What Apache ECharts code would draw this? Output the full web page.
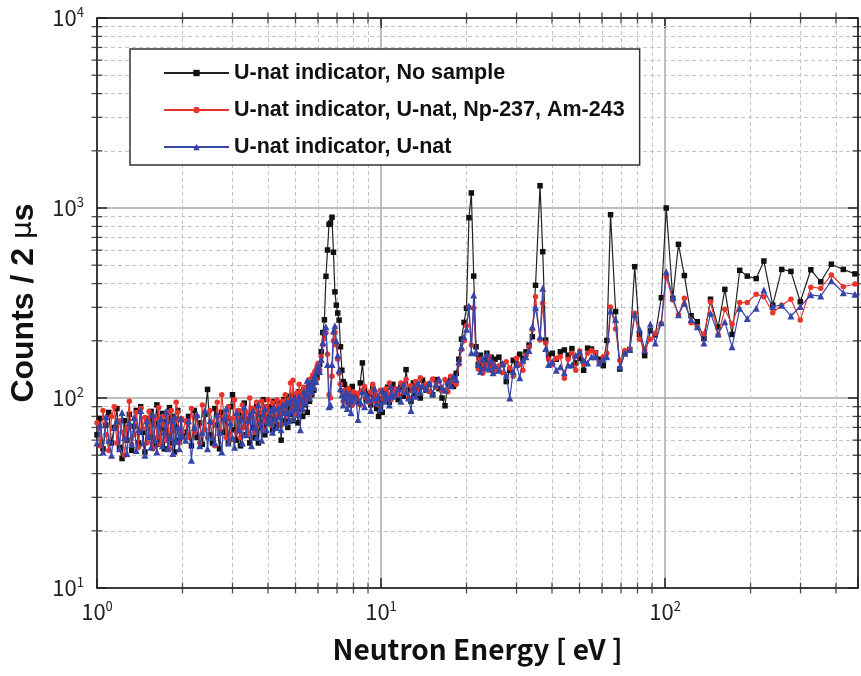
<!DOCTYPE html>
<html><head><meta charset="utf-8">
<script src="https://cdn.jsdelivr.net/npm/echarts@6/dist/echarts.min.js"></script>
<style>html,body{margin:0;padding:0;background:#fff}#c{width:861px;height:676px}</style>
</head><body><div id="c"></div><script>
// Neutron energy (eV) of each time-of-flight bin
const energy = [
 1.000,1.025,1.050,1.075,1.100,1.125,1.150,1.175,1.200,1.225,1.250,1.275,1.300,1.325,1.350,1.375,1.400,1.425,1.450,1.475,1.500,1.525,1.550,1.575,1.600,1.625,1.650,1.675,1.700,1.725,1.750,1.775,1.800,1.825,1.850,1.875,1.900,1.925,1.950,1.975,2.000,
 2.05,2.10,2.15,2.20,2.25,2.30,2.35,2.40,2.45,2.50,2.55,2.60,2.65,2.70,2.75,2.80,2.85,2.90,2.95,3.00,3.05,3.10,3.15,3.20,3.25,3.30,3.35,3.40,3.45,3.50,3.55,3.60,3.65,3.70,3.75,3.80,3.85,3.90,3.95,4.00,
 4.05,4.10,4.15,4.20,4.25,4.30,4.35,4.40,4.45,4.50,4.55,4.60,4.65,4.70,4.75,4.80,4.85,4.90,4.95,5.00,5.05,5.10,5.15,5.20,5.25,5.30,5.35,5.40,5.45,5.50,5.55,5.60,5.65,5.70,5.75,5.80,5.85,5.90,5.95,6.00,
 6.08,6.16,6.24,6.32,6.40,6.48,6.56,6.64,6.72,6.80,6.88,6.96,7.04,7.12,7.20,7.28,7.36,7.44,7.52,7.60,7.68,7.76,7.84,7.92,8.00,
 8.15,8.30,8.45,8.60,8.75,8.90,9.05,9.20,9.35,9.50,9.65,9.80,9.95,10.10,10.25,10.40,10.55,10.70,10.85,11.00,
 11.25,11.50,11.75,12.00,12.25,12.50,12.75,13.00,13.25,13.50,13.75,14.00,
 14.4,14.8,15.2,15.6,16.0,16.4,16.8,17.2,17.6,18.0,18.4,18.8,19.2,19.6,20.0,20.4,20.8,21.2,21.6,22.0,22.4,22.8,23.2,23.6,24.0,24.4,24.8,25.2,
 26.0,26.8,27.6,28.4,29.2,30.0,30.8,31.6,32.4,33.2,34.1,35.0,36.3,37.1,38.0,38.9,
 40.1,41.4,42.8,44.2,45.6,47.0,48.5,50.1,51.7,53.4,55.1,56.9,58.7,60.6,62.4,
 64.3,67.0,69.3,72.2,75.1,78.2,81.3,84.8,88.8,92.4,97.0,101.0,106.5,111.5,117.0,123.5,129.9,137.1,144.6,153.8,162.4,172.2,183.2,194.8,209.4,222.8,239.5,257.5,277.5,299.4,326.1,353.4,385.2,424.3,466.2,512
];
// Counts / 2 us : U-nat indicator, No sample
const noSample = [
 64,78,54,72,84,58,70,88,55,48,76,60,82,53,71,86,58,90,66,52,78,62,85,56,73,92,57,69,83,54,75,63,89,58,80,52,70,86,60,77,64,
 66,80,56,86,62,74,57,82,111,64,58,88,72,54,84,66,78,58,90,104,68,60,85,56,80,94,64,76,58,88,70,62,92,58,82,70,98,64,80,90,
 78,90,68,96,80,72,94,84,60,90,98,76,88,70,102,82,94,76,104,86,96,74,108,88,100,80,110,92,104,84,114,96,118,104,124,110,130,138,128,145,
 150,175,221,258,437,601,820,834,894,585,362,308,280,257,186,140,122,118,104,112,96,108,92,115,100,
 104,96,120,153,110,98,105,92,112,100,88,80,96,84,108,99,114,95,103,118,
 106,98,115,102,141,110,96,120,105,113,100,124,
 110,118,104,125,112,100,91,120,128,115,135,160,204,250,297,889,1200,438,186,150,168,140,158,172,150,164,145,160,
 164,150,122,140,158,151,170,161,175,190,210,392,1310,589,202,168,
 172,160,175,179,168,182,153,162,140,183,181,173,160,148,201,
 922,285,142,173,180,491,216,167,226,215,337,1000,335,644,441,271,252,206,331,236,373,216,470,438,425,526,308,475,464,321,473,409,506,475,450,440
];
// U-nat indicator, U-nat, Np-237, Am-243
const uNatNpAm = [
 74,56,86,64,53,80,90,58,76,66,50,70,96,57,64,84,55,88,69,79,58,85,66,54,78,62,89,57,80,72,60,83,54,86,67,76,95,84,58,78,66,
 76,62,88,66,80,58,92,68,62,86,74,56,95,68,104,80,62,90,60,78,98,66,86,62,92,70,84,64,100,74,88,66,95,72,84,96,68,90,76,98,
 84,72,94,86,76,98,80,92,72,96,86,104,80,94,98,120,86,124,95,82,106,94,118,88,108,96,114,94,110,100,120,104,126,112,132,118,138,126,146,152,
 140,165,190,205,220,170,104,100,130,200,222,190,160,135,118,108,96,110,102,94,112,99,105,92,108,
 98,106,92,110,115,100,95,108,118,96,104,92,110,100,97,112,105,120,98,108,
 112,104,120,108,125,100,116,110,122,106,128,114,
 118,108,126,114,122,110,125,108,130,122,118,150,180,200,240,300,190,297,170,142,160,135,150,145,165,140,152,138,
 148,136,155,144,130,162,150,140,168,185,230,341,202,315,195,160,
 150,162,165,127,160,172,140,177,151,172,178,173,153,165,172,
 301,231,158,178,180,279,204,180,204,219,247,435,328,274,335,249,237,217,321,215,293,245,318,318,352,341,281,308,331,257,383,378,444,385,398,400
];
// U-nat indicator, U-nat
const uNat = [
 58,72,52,80,60,50,70,76,54,84,62,51,74,57,79,53,68,86,58,50,76,63,55,82,60,52,72,78,56,66,85,54,62,76,51,80,59,70,54,78,63,
 60,76,47,70,82,56,66,86,54,76,62,58,82,66,52,78,88,58,74,62,55,84,68,78,58,90,64,76,82,56,86,70,62,92,74,60,82,88,68,78,
 74,86,66,90,78,70,88,80,68,92,84,74,95,84,76,98,86,78,100,88,94,82,102,68,98,88,108,94,104,124,112,100,120,108,124,114,132,122,140,148,
 138,160,196,225,237,150,90,92,150,225,240,200,168,140,112,104,92,100,108,88,98,105,84,96,102,
 100,77,95,108,90,104,98,86,100,112,94,102,88,110,96,105,100,92,115,102,
 104,112,96,118,108,100,86,114,102,120,108,116,
 112,120,106,118,126,114,110,122,116,130,125,155,185,210,230,305,173,348,175,150,138,162,145,170,142,158,136,148,
 140,152,132,100,138,150,128,158,165,178,237,300,210,378,182,150,
 155,140,146,136,149,149,168,175,158,153,165,165,153,160,165,
 287,259,146,172,180,274,231,179,245,195,249,462,339,274,315,259,237,195,279,217,252,186,297,262,297,370,303,308,270,303,349,344,414,358,352,350
];
const seriesNames = ['U-nat indicator, No sample', 'U-nat indicator, U-nat, Np-237, Am-243', 'U-nat indicator, U-nat'];
const xRange = [1, 478];
const yRange = [10, 10000];
const xMinorTicks = [2,3,4,5,6,7,8,9,20,30,40,50,60,70,80,90,200,300,400];
const yMinorTicks = [20,30,40,50,60,70,80,90,200,300,400,500,600,700,800,900,2000,3000,4000,5000,6000,7000,8000,9000];

const pairs = ys => energy.map((e, i) => [e, ys[i]]);
const supFmt = v => {
  const p = Math.log10(v);
  if (Math.abs(p - Math.round(p)) > 1e-6) return '';
  return '{b|10}{s|' + Math.round(p) + '}';
};
const labelRich = {
  b: {fontFamily: 'Noto Sans CJK JP', fontSize: 22, color: '#222', lineHeight: 24, verticalAlign: 'middle'},
  s: {fontFamily: 'Noto Sans CJK JP', fontSize: 13, color: '#222', lineHeight: 14, verticalAlign: 'top'}
};
const frame = {show: true, lineStyle: {color: '#111', width: 1.5}};
const majorTick = {show: true, inside: true, length: 10, lineStyle: {color: '#222', width: 1.5}};
const noSplit = {show: false};

const chart = echarts.init(document.getElementById('c'));
chart.setOption({
  animation: false,
  backgroundColor: '#fff',
  grid: {left: 95, top: 18, right: 0, bottom: 88},
  legend: {
    orient: 'vertical', left: 130, top: 49,
    itemWidth: 65, itemHeight: 8, itemGap: 15,
    padding: [13, 15, 7, 33],
    borderColor: '#333', borderWidth: 1.5, backgroundColor: '#fff',
    selectedMode: false,
    lineStyle: {width: 2},
    textStyle: {fontFamily: 'Liberation Sans', fontWeight: 'bold', fontSize: 21.5, color: '#111', lineHeight: 22},
    data: seriesNames
  },
  xAxis: [{
    type: 'log', logBase: 10, min: xRange[0], max: xRange[1],
    axisLine: frame, axisTick: majorTick,
    axisLabel: {formatter: supFmt, margin: 12, rich: labelRich},
    splitLine: {show: true, lineStyle: {color: '#a8a8a8', width: 1.5}},
    name: 'Neutron Energy [ eV ]', nameLocation: 'middle', nameGap: 47,
    nameTextStyle: {fontFamily: 'Noto Sans CJK JP', fontWeight: 'bold', fontSize: 28, color: '#111'}
  }, {
    type: 'log', logBase: 10, min: xRange[0], max: xRange[1], position: 'top',
    axisLine: frame, axisTick: majorTick, axisLabel: {show: false}, splitLine: noSplit
  }],
  yAxis: [{
    type: 'log', logBase: 10, min: yRange[0], max: yRange[1],
    axisLine: frame, axisTick: majorTick,
    axisLabel: {formatter: supFmt, margin: 13, rich: labelRich},
    splitLine: {show: true, lineStyle: {color: '#a8a8a8', width: 1.5}},
    name: 'Counts / 2 {m|μ}s', nameLocation: 'middle', nameGap: 57,
    nameTextStyle: {fontFamily: 'Liberation Sans', fontWeight: 'bold', fontSize: 32, color: '#111',
      rich: {m: {fontFamily: 'DejaVu Sans', fontWeight: 'normal', fontSize: 28, color: '#111'}}}
  }, {
    type: 'log', logBase: 10, min: yRange[0], max: yRange[1], position: 'right',
    axisLine: frame, axisTick: majorTick, axisLabel: {show: false}, splitLine: noSplit
  }],
  series: [
    {
      type: 'scatter', silent: true, clip: true, z: 1,
      symbol: 'rect', symbolSize: [1.3, 11],
      itemStyle: {color: '#222'},
      data: xMinorTicks.map(v => [v, yRange[0]]).concat(xMinorTicks.map(v => [v, yRange[1]])),
      markLine: {
        silent: true, symbol: 'none', z: 1, animation: false,
        label: {show: false},
        lineStyle: {color: '#c4c4c4', width: 1, type: [4, 3]},
        data: xMinorTicks.map(v => ({xAxis: v})).concat(yMinorTicks.map(v => ({yAxis: v})))
      }
    },
    {
      type: 'scatter', silent: true, clip: true, z: 1,
      symbol: 'rect', symbolSize: [11, 1.3],
      itemStyle: {color: '#222'},
      data: yMinorTicks.map(v => [xRange[0], v]).concat(yMinorTicks.map(v => [xRange[1], v]))
    },
    {
      name: seriesNames[0], type: 'line', data: pairs(noSample), z: 3,
      symbol: 'rect', symbolSize: 5.5, showAllSymbol: true,
      lineStyle: {color: '#222', width: 1.2}, itemStyle: {color: '#111'}
    },
    {
      name: seriesNames[1], type: 'line', data: pairs(uNatNpAm), z: 4,
      symbol: 'circle', symbolSize: 5.5, showAllSymbol: true,
      lineStyle: {color: '#e8342c', width: 1.2}, itemStyle: {color: '#e8342c'}
    },
    {
      name: seriesNames[2], type: 'line', data: pairs(uNat), z: 5,
      symbol: 'triangle', symbolSize: 7, showAllSymbol: true,
      lineStyle: {color: '#3546a8', width: 1.2}, itemStyle: {color: '#3546a8'}
    }
  ]
});
</script></body></html>
